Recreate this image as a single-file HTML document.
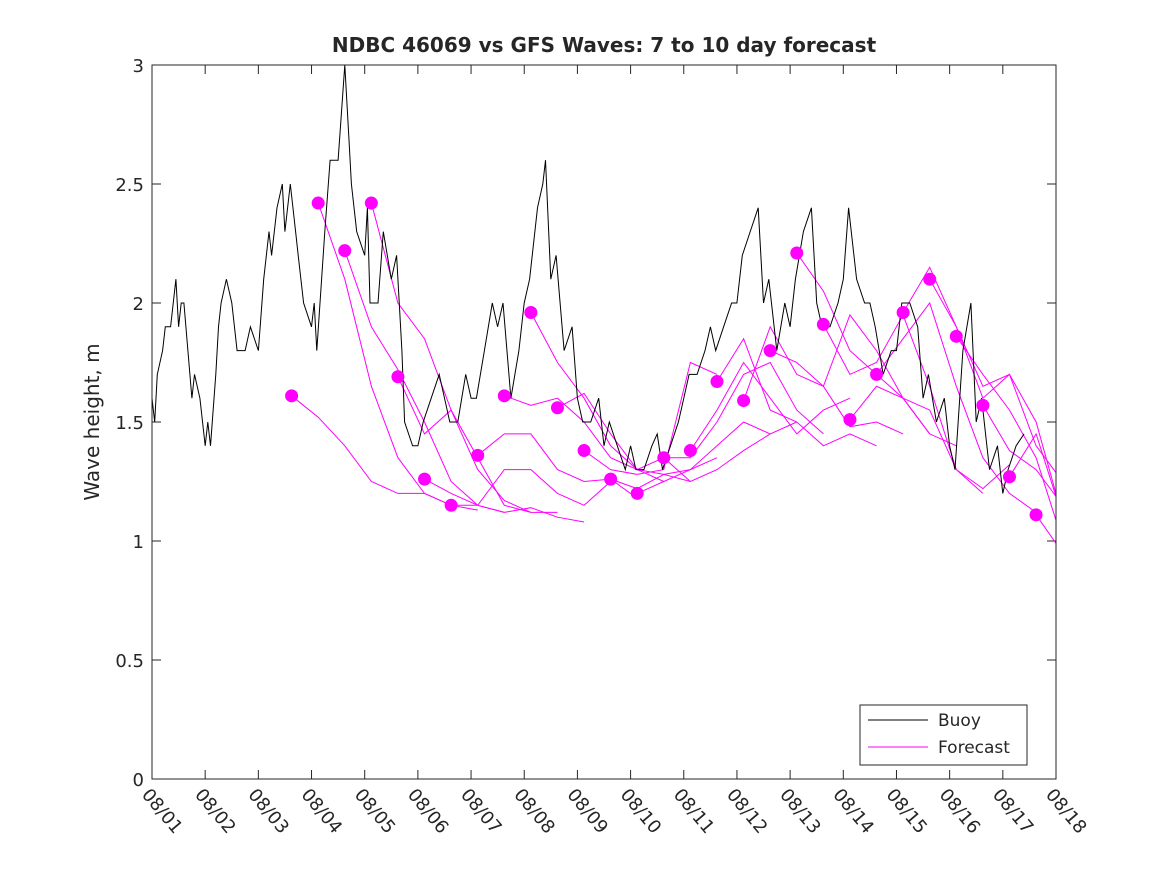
<!DOCTYPE html>
<html><head><meta charset="utf-8"><style>
body{margin:0;background:#fff;}
svg text{font-family:"DejaVu Sans","Liberation Sans",sans-serif;fill:#262626;}
</style></head><body>
<svg id="chart" width="1167" height="875">
<defs><clipPath id="clip"><rect x="152" y="65" width="904" height="714"/></clipPath></defs>
<rect x="0" y="0" width="1167" height="875" fill="#fff"/>
<text x="604" y="52" text-anchor="middle" font-size="20" font-weight="bold">NDBC 46069 vs GFS Waves: 7 to 10 day forecast</text>
<text transform="translate(99,422) rotate(-90)" text-anchor="middle" font-size="20">Wave height, m</text>
<g id="axes"></g>
<g id="series" clip-path="url(#clip)"></g>
<rect x="152" y="65" width="904" height="714" fill="none" stroke="#262626" stroke-width="1"/>
<g>
<rect x="860" y="705" width="167" height="60" fill="#fff" stroke="#262626" stroke-width="1"/>
<line x1="868" y1="720" x2="928" y2="720" stroke="#000" stroke-width="1"/>
<text x="938" y="726" font-size="17">Buoy</text>
<line x1="868" y1="747" x2="928" y2="747" stroke="#f0f" stroke-width="1"/>
<text x="938" y="753" font-size="17">Forecast</text>
</g>
</svg>
<script>
const yTicks=[0,0.5,1,1.5,2,2.5,3];
const yTickLabels=["0","0.5","1","1.5","2","2.5","3"];
const xTickLabels=["08/01","08/02","08/03","08/04","08/05","08/06","08/07","08/08","08/09","08/10","08/11","08/12","08/13","08/14","08/15","08/16","08/17","08/18"];
const buoyDays=[0,0.05,0.1,0.2,0.25,0.35,0.45,0.5,0.55,0.6,0.75,0.8,0.9,1.0,1.05,1.1,1.2,1.25,1.3,1.4,1.5,1.6,1.75,1.85,2.0,2.1,2.2,2.25,2.35,2.45,2.5,2.6,2.7,2.75,2.85,3.0,3.05,3.1,3.25,3.35,3.5,3.625,3.7,3.75,3.85,4.0,4.05,4.1,4.25,4.35,4.5,4.6,4.7,4.75,4.9,5.0,5.1,5.25,5.4,5.5,5.6,5.75,5.9,6.0,6.1,6.25,6.4,6.5,6.6,6.75,6.9,7.0,7.1,7.25,7.35,7.4,7.5,7.6,7.75,7.9,8.0,8.1,8.25,8.4,8.5,8.6,8.75,8.9,9.0,9.1,9.25,9.4,9.5,9.6,9.75,9.9,10.0,10.1,10.25,10.4,10.5,10.6,10.75,10.9,11.0,11.1,11.25,11.4,11.5,11.6,11.75,11.9,12.0,12.1,12.25,12.4,12.5,12.6,12.75,12.9,13.0,13.1,13.25,13.4,13.5,13.6,13.75,13.9,14.0,14.1,14.25,14.4,14.5,14.6,14.75,14.9,15.0,15.1,15.25,15.4,15.5,15.6,15.75,15.9,16.0,16.1,16.25,16.4];
const buoyValues=[1.6,1.5,1.7,1.8,1.9,1.9,2.1,1.9,2.0,2.0,1.6,1.7,1.6,1.4,1.5,1.4,1.7,1.9,2.0,2.1,2.0,1.8,1.8,1.9,1.8,2.1,2.3,2.2,2.4,2.5,2.3,2.5,2.3,2.2,2.0,1.9,2.0,1.8,2.3,2.6,2.6,3.0,2.7,2.5,2.3,2.2,2.4,2.0,2.0,2.3,2.1,2.2,1.8,1.5,1.4,1.4,1.5,1.6,1.7,1.6,1.5,1.5,1.7,1.6,1.6,1.8,2.0,1.9,2.0,1.6,1.8,2.0,2.1,2.4,2.5,2.6,2.1,2.2,1.8,1.9,1.6,1.5,1.5,1.6,1.4,1.5,1.4,1.3,1.4,1.3,1.3,1.4,1.45,1.3,1.4,1.5,1.6,1.7,1.7,1.8,1.9,1.8,1.9,2.0,2.0,2.2,2.3,2.4,2.0,2.1,1.8,2.0,1.9,2.1,2.3,2.4,2.0,1.9,1.9,2.0,2.1,2.4,2.1,2.0,2.0,1.9,1.7,1.8,1.8,2.0,2.0,1.9,1.6,1.7,1.5,1.6,1.4,1.3,1.8,2.0,1.5,1.6,1.3,1.4,1.2,1.3,1.4,1.45];
const fcStart=2.625, fcStep=0.5;
const fc0=[1.61,1.52,1.40,1.25,1.20,1.20,1.15];
const fc1=[2.42,2.1,1.65,1.35,1.2,1.15,1.13];
const fc2=[2.22,1.9,1.72,1.5,1.25,1.15,1.12];
const fc3=[2.42,2.0,1.85,1.55,1.3,1.17,1.12];
const fc4=[1.69,1.45,1.55,1.35,1.15,1.12,1.12];
const fc5=[1.26,1.2,1.15,1.12,1.14,1.10,1.08];
const fc6=[1.15,1.15,1.3,1.3,1.2,1.15,1.25];
const fc7=[1.36,1.45,1.45,1.3,1.25,1.26,1.18];
const fc8=[1.61,1.57,1.6,1.5,1.35,1.3,1.25];
const fc9=[1.96,1.75,1.6,1.4,1.3,1.35,1.25];
const fc10=[1.56,1.62,1.45,1.3,1.28,1.3,1.35];
const fc11=[1.38,1.3,1.28,1.3,1.75,1.70];
const fc12=[1.26,1.22,1.28,1.25,1.3,1.38,1.45];
const fc13=[1.20,1.25,1.3,1.4,1.5,1.45,1.5];
const fc14=[1.35,1.35,1.5,1.7,1.75,1.55,1.45];
const fc15=[1.38,1.55,1.75,1.6,1.45,1.55,1.6];
const fc16=[1.67,1.85,1.55,1.5,1.4,1.45,1.4];
const fc17=[1.59,1.9,1.7,1.65,1.48,1.5,1.45];
const fc18=[1.80,1.75,1.65,1.95,1.8,1.6,1.45];
const fc19=[2.21,2.05,1.8,1.7,1.6,1.45,1.4];
const fc20=[1.91,1.7,1.75,1.95,1.65,1.3,1.2];
const fc21=[1.51,1.65,1.6,1.55,1.3,1.22,1.32];
const fc22=[1.70,1.85,2.0,1.65,1.35,1.2,1.12];
const fc23=[1.96,2.15,1.9,1.6,1.7,1.4,1.25];
const fc24=[2.10,1.9,1.65,1.7,1.5,1.1,1.02];
const fc25=[1.86,1.7,1.55,1.35,1.0,1.02,0.98];
const fc26=[1.57,1.38,1.3,1.15,1.2,1.0,0.9];
const fc27=[1.27,1.45,1.1,1.0,0.95,0.9];
const fc28=[1.11,0.95,1.1,1.0];
const forecasts=[fc0,fc1,fc2,fc3,fc4,fc5,fc6,fc7,fc8,fc9,fc10,fc11,fc12,fc13,fc14,fc15,fc16,fc17,fc18,fc19,fc20,fc21,fc22,fc23,fc24,fc25,fc26,fc27,fc28];

const X0=152,X1=1056,Y0=779,Y1=65;
function xs(d){return X0+(X1-X0)*d/17;}
function ys(v){return Y0-(Y0-Y1)*v/3;}
const NS="http://www.w3.org/2000/svg";
function mk(tag,attrs,parent){const e=document.createElementNS(NS,tag);for(const k in attrs)e.setAttribute(k,attrs[k]);parent.appendChild(e);return e;}
const axes=document.getElementById('axes');
const series=document.getElementById('series');
yTicks.forEach((v,i)=>{
  const y=ys(v);
  const l1=mk('line',{x1:X0,y1:y,x2:X0+9,y2:y,stroke:'#262626'},axes);
  
  
  mk('line',{x1:X1-9,y1:y,x2:X1,y2:y,stroke:'#262626'},axes);
  const t=mk('text',{x:X0-8,y:y+7,'text-anchor':'end','font-size':18},axes);
  t.textContent=yTickLabels[i];
  
  
});
xTickLabels.forEach((lab,i)=>{
  const x=xs(i);
  const l=mk('line',{x1:x,y1:Y0,x2:x,y2:Y0-9,stroke:'#262626'},axes);
  
  
  mk('line',{x1:x,y1:Y1,x2:x,y2:Y1+9,stroke:'#262626'},axes);
  const t=mk('text',{transform:`translate(${x-11},${Y0+16}) rotate(50)`,'font-size':18},axes);
  t.textContent=lab;
  
  
});
forecasts.forEach((arr,k)=>{
  const d0=fcStart+fcStep*k;
  const pts=arr.map((v,j)=>xs(d0+fcStep*j).toFixed(1)+','+ys(v).toFixed(1)).join(' ');
  const p=mk('polyline',{points:pts,fill:'none',stroke:'#f0f','stroke-width':1},series);
  
  
});
const bpts=buoyDays.map((d,i)=>xs(d).toFixed(1)+','+ys(buoyValues[i]).toFixed(1)).join(' ');
const b=mk('polyline',{points:bpts,fill:'none',stroke:'#000','stroke-width':1},series);


forecasts.forEach((arr,k)=>{
  const d0=fcStart+fcStep*k;
  const c=mk('circle',{cx:xs(d0),cy:ys(arr[0]),r:6.5,fill:'#f0f'},series);
  
  
});
</script>
</body></html>
